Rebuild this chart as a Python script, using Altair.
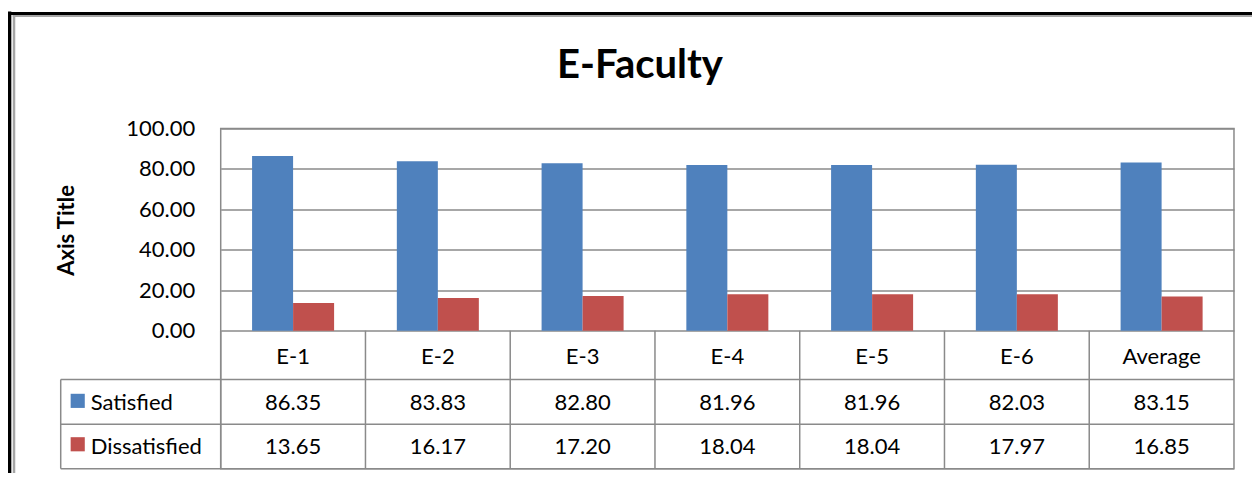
import altair as alt
import pandas as pd

# ---- data ----
categories = ["E-1", "E-2", "E-3", "E-4", "E-5", "E-6", "Average"]
series = ["Satisfied", "Dissatisfied"]
satisfied = [86.35, 83.83, 82.80, 81.96, 81.96, 82.03, 83.15]
dissatisfied = [13.65, 16.17, 17.20, 18.04, 18.04, 17.97, 16.85]
y_ticks = [0, 20, 40, 60, 80, 100]
colors = ["#4F81BD", "#C0504D"]
title_text = "E-Faculty"
y_title = "Axis Title"

# ---- layout / style ----
W, H = 1013.3, 340.2
Y_MAX = 100
Y_MIN = -68.25
ROW_LINES = [-24.13, -46.29]
HEADER_Y = -12.86
ROW_Y = {"Satisfied": -35.9, "Dissatisfied": -57.37}
LEG_LEFT = -160
LEG_SQ_X = -143
LEG_TXT_X = -130
GRID = "#8a8a8a"
FONT = "Lato"
FS = 22

values_by_series = {"Satisfied": satisfied, "Dissatisfied": dissatisfied}
bars_df = pd.DataFrame(
    [
        {"category": c, "series": s, "value": v}
        for s in series
        for c, v in zip(categories, values_by_series[s])
    ]
)
cat_df = pd.DataFrame({"category": categories})
series_df = pd.DataFrame({"series": series})
one = pd.DataFrame({"k": [0]})

yscale = alt.Scale(domain=[Y_MIN, Y_MAX], nice=False, zero=False)
y_axis = alt.Axis(
    values=y_ticks,
    format=".2f",
    grid=True,
    gridColor=GRID,
    gridWidth=1.5,
    domain=False,
    ticks=False,
    labelFont=FONT,
    labelFontSize=FS,
    labelColor="black",
    labelPadding=26,
    title=y_title,
    titleFont=FONT,
    titleFontSize=22,
    titleFontWeight="bold",
    titleColor="black",
    titleBaseline="alphabetic",
    titleX=-147.7,
    titleY=101.5,
)
x_enc = alt.X(
    "category:N",
    sort=categories,
    scale=alt.Scale(paddingInner=0, paddingOuter=0),
    axis=None,
)
color_enc = alt.Color(
    "series:N", scale=alt.Scale(domain=series, range=colors), legend=None
)


def ypos(field):
    return alt.Y(field, type="quantitative", scale=yscale, axis=y_axis)


bars = (
    alt.Chart(bars_df)
    .mark_bar()
    .encode(
        x=x_enc,
        xOffset=alt.XOffset(
            "series:N",
            sort=series,
            scale=alt.Scale(paddingInner=0, paddingOuter=0.765),
        ),
        y=ypos("value"),
        color=color_enc,
    )
)

layers = [bars]

# table vertical separators
layers.append(
    alt.Chart(cat_df)
    .transform_calculate(ytop="0", ybot=str(Y_MIN))
    .mark_rule(color=GRID, strokeWidth=1.5)
    .encode(
        x=alt.X("category:N", sort=categories, bandPosition=0, axis=None),
        y=ypos("ytop"),
        y2="ybot:Q",
    )
)

# table horizontal lines (incl. legend column)
for yl in ROW_LINES + [Y_MIN]:
    layers.append(
        alt.Chart(one)
        .transform_calculate(yl=str(yl))
        .mark_rule(color=GRID, strokeWidth=1.5)
        .encode(x=alt.value(LEG_LEFT), x2=alt.value(W), y=ypos("yl"))
    )

# legend column left edge
layers.append(
    alt.Chart(one)
    .transform_calculate(ya=str(ROW_LINES[0]), yb=str(Y_MIN))
    .mark_rule(color=GRID, strokeWidth=1.5)
    .encode(x=alt.value(LEG_LEFT), y=ypos("ya"), y2="yb:Q")
)

# header labels
layers.append(
    alt.Chart(cat_df)
    .transform_calculate(yh=str(HEADER_Y))
    .mark_text(font=FONT, fontSize=FS, color="black", baseline="middle")
    .encode(x=x_enc, y=ypos("yh"), text="category:N")
)

for s in series:
    layers.append(
        alt.Chart(bars_df)
        .transform_filter(alt.datum.series == s)
        .transform_calculate(yr=str(ROW_Y[s]))
        .mark_text(font=FONT, fontSize=FS, color="black", baseline="middle")
        .encode(
            x=x_enc,
            y=ypos("yr"),
            text=alt.Text("value:Q", format=".2f"),
        )
    )
    layers.append(
        alt.Chart(series_df)
        .transform_filter(alt.datum.series == s)
        .transform_calculate(yr=str(ROW_Y[s] + 1.2))
        .mark_square(size=200, opacity=1)
        .encode(x=alt.value(LEG_SQ_X), y=ypos("yr"), color=color_enc)
    )
    layers.append(
        alt.Chart(series_df)
        .transform_filter(alt.datum.series == s)
        .transform_calculate(yr=str(ROW_Y[s]))
        .mark_text(font=FONT, fontSize=FS, color="black", align="left", baseline="middle")
        .encode(x=alt.value(LEG_TXT_X), y=ypos("yr"), text="series:N")
    )

# chart title
layers.append(
    alt.Chart(pd.DataFrame({"t": [title_text]}))
    .mark_text(font=FONT, fontSize=40, fontWeight="bold", color="black",
               align="center", baseline="alphabetic")
    .encode(x=alt.value(419.3), y=alt.value(-50.5), text="t:N")
)

# outer frame
layers += [
    alt.Chart(one).mark_rule(color="black", strokeWidth=4).encode(
        x=alt.value(-211.4), y=alt.value(-117), y2=alt.value(H + 200)),
    alt.Chart(one).mark_rule(color="black", strokeWidth=3).encode(
        x=alt.value(-213.4), x2=alt.value(W + 300), y=alt.value(-115)),
    alt.Chart(one).mark_rule(color="#a6a6a6", strokeWidth=2.5).encode(
        x=alt.value(-206.7), y=alt.value(-113.5), y2=alt.value(H + 200)),
    alt.Chart(one).mark_rule(color="#a6a6a6", strokeWidth=2).encode(
        x=alt.value(-208), x2=alt.value(W + 300), y=alt.value(-112.5)),
]

chart = (
    alt.layer(*layers)
    .properties(
        width=W,
        height=H,
        autosize=alt.AutoSizeParams(type="none"),
        padding={"left": 212.7, "top": 120.5, "right": 18, "bottom": 4},
        background="white",
    )
    .configure_view(stroke=GRID, strokeWidth=1.5)
)

chart.save("out.html", embed_options={"renderer": "svg", "actions": False})
